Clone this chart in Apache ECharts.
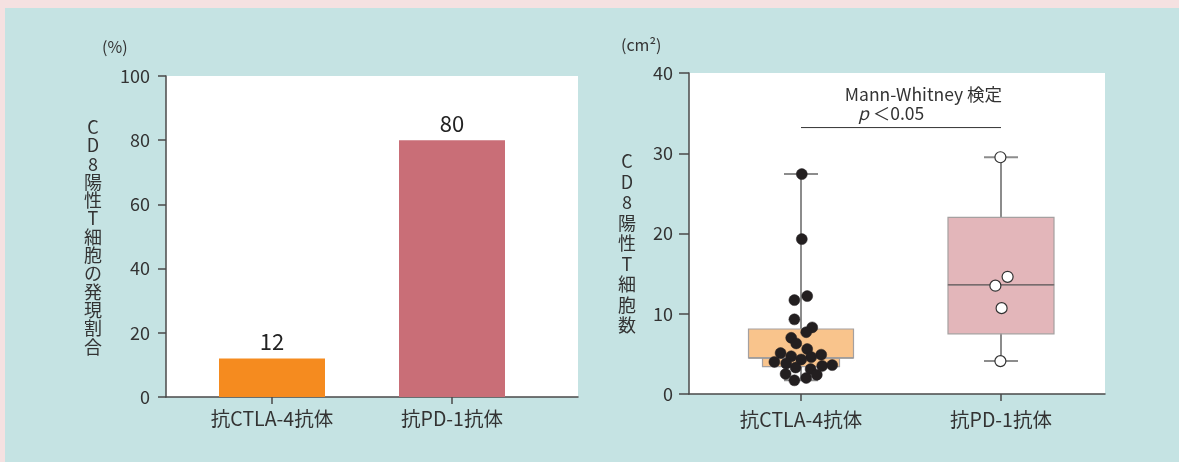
<!DOCTYPE html>
<html>
<head>
<meta charset="utf-8">
<script src="https://cdn.jsdelivr.net/npm/echarts@6/dist/echarts.min.js"></script>
<style>
html,body{margin:0;padding:0;background:#f5e1e1;}
#chart{width:1179px;height:462px;}
</style>
</head>
<body>
<div id="chart"></div>
<script>
// ---- data ----
const barCategories = ['抗CTLA-4抗体', '抗PD-1抗体'];
const barValues = [12, 80];
const barColors = ['#f58b1f', '#c96e77'];

const boxCategories = ['抗CTLA-4抗体', '抗PD-1抗体'];
const boxLow    = [1.7, 4.1];
const boxQ1     = [3.4, 7.5];
const boxMedian = [4.5, 13.6];
const boxQ3     = [8.1, 22.0];
const boxHigh   = [27.4, 29.5];

const ctlaValues = [27.4, 19.3, 11.7, 12.2, 9.3, 8.3, 7.7, 7.0, 6.3, 5.6, 5.1, 4.7, 4.9, 4.6, 4.3, 4.0, 3.8, 3.3, 3.5, 3.6, 3.1, 2.5, 2.4, 1.7, 2.0];
const ctlaJitter = [0.004, 0.004, -0.033, 0.031, -0.033, 0.056, 0.026, -0.049, -0.024, 0.031, -0.102, -0.049, 0.101, 0.051, 0.001, -0.133, -0.074, -0.027, 0.106, 0.156, 0.048, -0.077, 0.079, -0.033, 0.026];
const pdValues = [29.5, 14.6, 13.5, 10.7, 4.1];
const pdJitter = [-0.003, 0.033, -0.028, 0.003, -0.003];

const bracketLevel = 33.2;
const bracketFrom = 0;
const bracketTo = 1;

const leftAxisName = 'CD8陽性T細胞の発現割合';
const rightAxisName = 'CD8陽性T細胞数';

// ---- styles ----
const FONT = '"Noto Sans CJK JP", "Noto Sans", sans-serif';
const TXT = '#333333';
const AX = '#4a4a4a';
const boxFill = ['#f9c48c', '#e3b6ba'];
const lowerBoxWidth = [0.385, 0.53];
const upperBoxWidth = [0.525, 0.53];
const medianColor = ['#9a9a9a', '#7a6a6c'];

const chart = echarts.init(document.getElementById('chart'));

function stackText(s) { return s.split('').join('\n'); }

const option = {
  animation: false,
  backgroundColor: '#f5e1e1',
  textStyle: { fontFamily: FONT },
  graphic: [
    { type: 'rect', z: -100, shape: { x: 5, y: 8, width: 1174, height: 454 }, style: { fill: '#c5e3e3' } },
    { type: 'text', left: 102, top: 39, style: { text: '(%)', font: '16px ' + FONT, fill: TXT } },
    { type: 'text', left: 621, top: 37, style: { text: '(cm²)', font: '16px ' + FONT, fill: TXT } },
    { type: 'text', x: 93, y: 118, style: { text: stackText(leftAxisName), font: '18px ' + FONT, fill: TXT, align: 'center', lineHeight: 18.3 } },
    { type: 'text', x: 627, y: 151, style: { text: stackText(rightAxisName), font: '18px ' + FONT, fill: TXT, align: 'center', lineHeight: 20.5 } },
    { type: 'text', x: 1002, y: 86, style: { text: 'Mann-Whitney 検定', font: '17.5px ' + FONT, fill: TXT, align: 'right' } },
    { type: 'text', x: 858, y: 105, style: {
        text: '{i|p} ＜0.05', font: '17.5px ' + FONT, fill: TXT,
        rich: { i: { fontStyle: 'italic', fontSize: 17.5, fontFamily: FONT, fill: TXT } } } }
  ],
  grid: [
    { left: 166, top: 76, width: 412, height: 321, show: true, backgroundColor: '#ffffff', borderWidth: 0 },
    { left: 182, top: 76, width: 360, height: 321 },
    { left: 689, top: 73, width: 416, height: 321, show: true, backgroundColor: '#ffffff', borderWidth: 0 },
    { left: 701, top: 73, width: 400, height: 321 }
  ],
  xAxis: [
    { gridIndex: 0, type: 'value', min: 0, max: 1, axisLine: { show: true, lineStyle: { color: AX, width: 1.5 } }, axisTick: { show: false }, axisLabel: { show: false }, splitLine: { show: false } },
    { gridIndex: 1, type: 'category', data: barCategories, axisLine: { show: false }, axisTick: { show: true, alignWithLabel: true, length: 7, lineStyle: { color: AX, width: 1.5 } },
      axisLabel: { color: TXT, fontSize: 19.5, margin: 12, fontFamily: FONT } },
    { gridIndex: 2, type: 'value', min: 0, max: 1, axisLine: { show: true, lineStyle: { color: AX, width: 1.5 } }, axisTick: { show: false }, axisLabel: { show: false }, splitLine: { show: false } },
    { gridIndex: 3, type: 'category', data: boxCategories, axisLine: { show: false }, axisTick: { show: true, alignWithLabel: true, length: 7, lineStyle: { color: AX, width: 1.5 } },
      axisLabel: { color: TXT, fontSize: 19.5, margin: 16, fontFamily: FONT } },
    { gridIndex: 3, type: 'value', min: -0.5, max: 1.5, show: false }
  ],
  yAxis: [
    { gridIndex: 0, type: 'value', min: 0, max: 100, interval: 20, axisLine: { show: true, lineStyle: { color: AX, width: 1.5 } },
      axisTick: { show: true, length: 8, lineStyle: { color: AX, width: 1.5 } }, splitLine: { show: false },
      axisLabel: { color: TXT, fontSize: 18, margin: 16, fontFamily: FONT } },
    { gridIndex: 1, type: 'value', min: 0, max: 100, show: false },
    { gridIndex: 2, type: 'value', min: 0, max: 40, interval: 10, axisLine: { show: true, lineStyle: { color: AX, width: 1.5 } },
      axisTick: { show: true, length: 10, lineStyle: { color: AX, width: 1.5 } }, splitLine: { show: false },
      axisLabel: { color: TXT, fontSize: 18, margin: 16, fontFamily: FONT } },
    { gridIndex: 3, type: 'value', min: 0, max: 40, show: false }
  ],
  series: [
    { type: 'bar', xAxisIndex: 1, yAxisIndex: 1, barWidth: 106,
      data: barValues.map((v, i) => ({ value: v, itemStyle: { color: barColors[i] } })),
      label: { show: true, position: 'top', distance: 6, color: '#222', fontSize: 22, fontFamily: FONT } },
    { type: 'custom', xAxisIndex: 3, yAxisIndex: 3, z: 2,
      data: boxCategories.map((c, i) => [i, boxLow[i], boxQ1[i], boxMedian[i], boxQ3[i], boxHigh[i]]),
      renderItem: function (params, api) {
        const i = api.value(0);
        const band = api.size([1, 0])[0];
        const pLow = api.coord([i, api.value(1)]);
        const pQ1 = api.coord([i, api.value(2)]);
        const pMed = api.coord([i, api.value(3)]);
        const pQ3 = api.coord([i, api.value(4)]);
        const pHigh = api.coord([i, api.value(5)]);
        const cx = pLow[0];
        const cap = band * 0.17 / 2;
        const wl = band * lowerBoxWidth[i] / 2;
        const wu = band * upperBoxWidth[i] / 2;
        const ws = { stroke: '#8c8c8c', lineWidth: 2 };
        const bs = { fill: boxFill[i], stroke: '#a5a0a0', lineWidth: 1.2 };
        return { type: 'group', children: [
          { type: 'line', shape: { x1: cx, y1: pLow[1], x2: cx, y2: pHigh[1] }, style: ws },
          { type: 'line', shape: { x1: cx - cap, y1: pLow[1], x2: cx + cap, y2: pLow[1] }, style: ws },
          { type: 'line', shape: { x1: cx - cap, y1: pHigh[1], x2: cx + cap, y2: pHigh[1] }, style: ws },
          { type: 'rect', shape: { x: cx - wl, y: pMed[1], width: 2 * wl, height: pQ1[1] - pMed[1] }, style: bs },
          { type: 'rect', shape: { x: cx - wu, y: pQ3[1], width: 2 * wu, height: pMed[1] - pQ3[1] }, style: bs },
          { type: 'line', shape: { x1: cx - Math.max(wl, wu), y1: pMed[1], x2: cx + Math.max(wl, wu), y2: pMed[1] }, style: { stroke: medianColor[i], lineWidth: 1.5 } }
        ] };
      }
    },
    { type: 'scatter', xAxisIndex: 4, yAxisIndex: 3, z: 5, symbolSize: 11,
      itemStyle: { color: '#231f20', borderColor: '#231f20', borderWidth: 0.5, opacity: 1 },
      data: ctlaValues.map((v, k) => [0 + ctlaJitter[k], v]) },
    { type: 'scatter', xAxisIndex: 4, yAxisIndex: 3, z: 5, symbolSize: 11,
      itemStyle: { color: '#ffffff', borderColor: '#333333', borderWidth: 1.2, opacity: 1 },
      data: pdValues.map((v, k) => [1 + pdJitter[k], v]) },
    { type: 'line', xAxisIndex: 4, yAxisIndex: 3, symbol: 'none', silent: true,
      lineStyle: { color: '#333', width: 1 },
      data: [[bracketFrom, bracketLevel], [bracketTo, bracketLevel]] }
  ]
};
chart.setOption(option);
</script>
</body>
</html>
